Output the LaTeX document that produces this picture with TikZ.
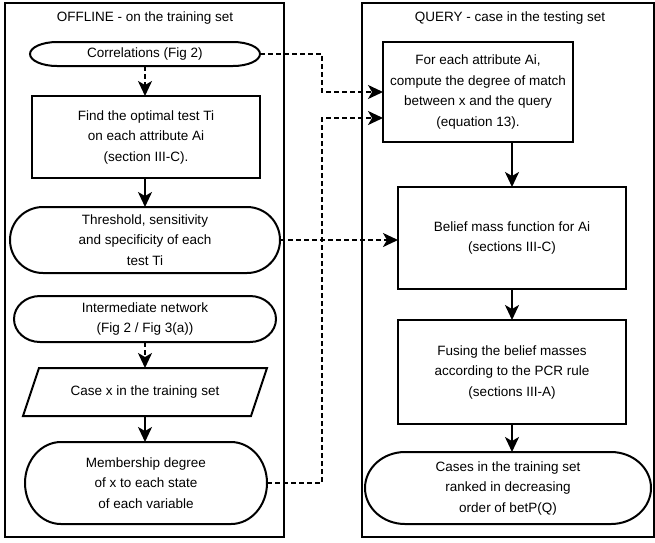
\documentclass[tikz,border=0pt]{standalone}
\usepackage{fontspec}
\setmainfont{Liberation Sans}
\usetikzlibrary{arrows.meta}
\newcommand\TermOutline[3]{%
  \draw[termline] ([xshift=#2pt]#1.north west) -- ([xshift=-#2pt]#1.north east)
    .. controls ([xshift=-0.448*#2pt]#1.north east) and ([yshift=0.552*#3pt]#1.east) .. (#1.east)
    .. controls ([yshift=-0.552*#3pt]#1.east) and ([xshift=-0.448*#2pt]#1.south east) .. ([xshift=-#2pt]#1.south east)
    -- ([xshift=#2pt]#1.south west)
    .. controls ([xshift=0.448*#2pt]#1.south west) and ([yshift=-0.552*#3pt]#1.west) .. (#1.west)
    .. controls ([yshift=0.552*#3pt]#1.west) and ([xshift=0.448*#2pt]#1.north west) .. ([xshift=#2pt]#1.north west)
    -- cycle;}
\tikzset{
  base/.style={font=\fontsize{13.5}{20.5}\selectfont, align=center, inner sep=0pt, outer sep=0pt},
  boxnode/.style={base, draw, line width=2pt},
  termnode/.style={base},
  termline/.style={line width=2pt},
  frame/.style={draw, line width=2pt},
  lnk/.style={line width=2pt, -{Stealth[length=15pt,width=14pt,inset=4pt]}},
  dlnk/.style={lnk, dash pattern=on 5pt off 3pt},
}
\begin{document}
\begin{tikzpicture}[x=1pt,y=-1pt]
\useasboundingbox (0,0) rectangle (655,542);
% frames
\draw[frame] (5,3) rectangle (284,537);
\draw[frame] (362,3) rectangle (654,537);
\node[base] (t1) at (145,18) {OFFLINE - on the training set};
\node[base] (t2) at (510,18) {QUERY - case in the testing set};
% left column
\node[termnode, minimum width=230pt, minimum height=24pt] (corr) at (145,54) {Correlations (Fig 2)};
\TermOutline{corr}{27}{12}
\node[boxnode, minimum width=228pt, minimum height=82pt] (find) at (146,137) {Find the optimal test Ti\\on each attribute Ai\\(section III-C).};
\node[termnode, minimum width=270pt, minimum height=66pt] (thr) at (145,240) {Threshold, sensitivity\\and specificity of each\\test Ti};
\TermOutline{thr}{33}{33}
\node[termnode, minimum width=262pt, minimum height=46pt] (inter) at (145,319) {Intermediate network\\(Fig 2 / Fig 3(a))};
\TermOutline{inter}{26}{23}
\node[base, minimum width=244pt, minimum height=48pt] (casex) at (145,392) {Case x in the training set};
\draw[termline] ([xshift=16pt]casex.north west) -- (casex.north east) -- ([xshift=-16pt]casex.south east) -- (casex.south west) -- cycle;
\node[termnode, minimum width=242pt, minimum height=82pt] (memb) at (146,483) {Membership degree\\of x to each state\\of each variable};
\TermOutline{memb}{36}{41}
% right column
\node[boxnode, minimum width=190pt, minimum height=100pt] (fe) at (478,92) {For each attribute Ai,\\compute the degree of match\\between x and the query\\(equation 13).};
\node[boxnode, minimum width=228pt, minimum height=102pt] (bel) at (512,238) {Belief mass function for Ai\\(sections III-C)};
\node[boxnode, minimum width=228pt, minimum height=104pt] (fus) at (512,372) {Fusing the belief masses\\according to the PCR rule\\(sections III-A)};
\node[termnode, minimum width=286pt, minimum height=72pt] (cases) at (508,488) {Cases in the training set\\ranked in decreasing\\order of betP(Q)};
\TermOutline{cases}{40}{36}
% vertical arrows
\draw[dlnk] (corr.south) -- (corr.south |- find.north);
\draw[lnk] (thr.north |- find.south) -- (thr.north);
\draw[dlnk] (inter.south) -- (inter.south |- casex.north);
\draw[lnk] (casex.south) -- (casex.south |- memb.north);
\draw[lnk] (bel.north |- fe.south) -- (bel.north);
\draw[lnk] (bel.south) -- (fus.north);
\draw[lnk] (fus.south) -- (fus.south |- cases.north);
% dashed cross connectors
\coordinate (bus) at (322,0);
\draw[dlnk] (corr.east) -- (corr.east -| bus) |- (fe.west);
\draw[dlnk] (memb.east) -- (memb.east -| bus) |- ([yshift=-26pt]fe.west);
\draw[dlnk] (thr.east) -- (bel.west |- thr.east);
\end{tikzpicture}
\end{document}
